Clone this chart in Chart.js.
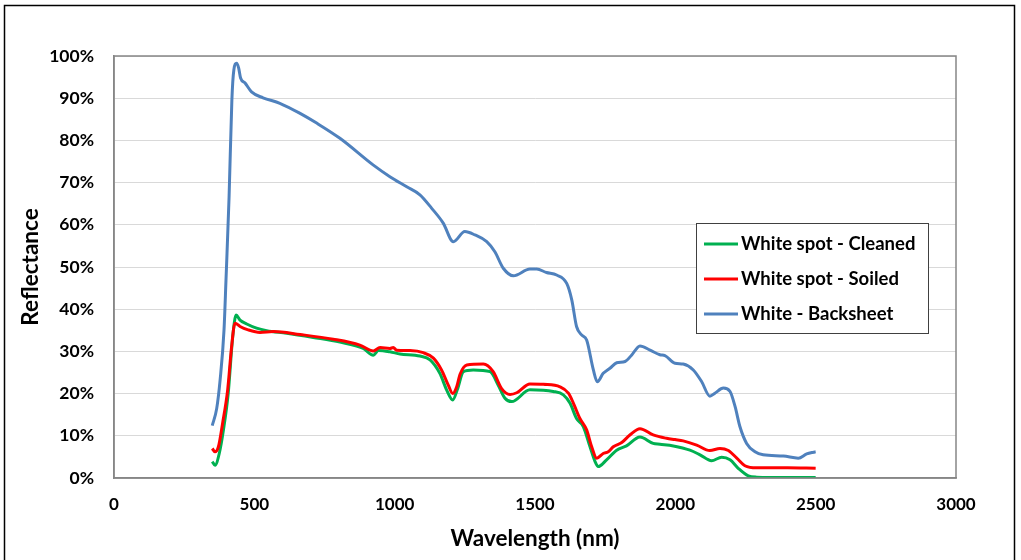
<!DOCTYPE html>
<html lang="en">
<head>
    <meta charset="UTF-8">
    <title>Reflectance spectra</title>
    <script src="https://cdn.jsdelivr.net/npm/chart.js@4/dist/chart.umd.min.js"></script>
    <style>
        html, body {
            margin: 0;
            padding: 0;
            background: #ffffff;
        }
        .chart-box {
            position: relative;
            width: 1021px;
            height: 560px;
        }
    </style>
</head>
<body>
    <div class="chart-box">
        <canvas id="specChart" width="1021" height="560"></canvas>
    </div>

    <script>
        // wavelength (nm) and reflectance (%) for each sample
        const cleanedWl = [350, 360, 375, 390, 407, 423, 435, 449, 473, 508, 544, 615, 710, 805, 888, 924, 942, 983, 1019, 1090, 1126, 1161, 1185, 1207, 1223, 1245, 1280, 1340, 1369, 1393, 1417, 1482, 1565, 1601, 1625, 1648, 1672, 1696, 1714, 1725, 1755, 1791, 1826, 1874, 1921, 1945, 1993, 2052, 2088, 2129, 2165, 2195, 2224, 2260, 2290, 2400, 2500];
        const cleanedPct = [3.9, 3.0, 5.8, 11.4, 20.1, 33.5, 38.6, 37.4, 36.5, 35.5, 34.9, 34.3, 33.3, 32.2, 30.7, 29.1, 30.2, 29.9, 29.4, 28.9, 28.0, 24.8, 20.9, 18.5, 20.9, 25.2, 25.6, 25.2, 22.0, 18.9, 18.1, 20.9, 20.5, 19.7, 17.7, 14.1, 12.2, 7.4, 3.9, 2.7, 4.3, 6.6, 7.6, 9.7, 8.2, 8.0, 7.6, 6.6, 5.5, 4.1, 4.9, 4.3, 2.3, 0.5, 0.2, 0.1, 0.1];

        const soiledWl = [350, 360, 372, 387, 405, 419, 431, 449, 478, 520, 568, 663, 781, 876, 924, 948, 983, 995, 1007, 1055, 1102, 1138, 1167, 1191, 1207, 1221, 1233, 1257, 1316, 1351, 1381, 1411, 1435, 1482, 1530, 1589, 1619, 1637, 1660, 1684, 1702, 1720, 1743, 1761, 1779, 1809, 1838, 1874, 1921, 1969, 1999, 2028, 2076, 2123, 2159, 2189, 2219, 2248, 2290, 2400, 2500];
        const soiledPct = [7.0, 6.2, 7.4, 13.0, 20.9, 31.1, 36.7, 35.9, 35.1, 34.5, 34.7, 34.0, 32.9, 31.5, 30.1, 30.9, 30.7, 30.9, 30.3, 30.2, 29.7, 28.4, 25.6, 22.0, 20.0, 21.6, 24.6, 26.8, 27.0, 25.2, 21.2, 19.8, 20.2, 22.3, 22.2, 21.6, 20.1, 17.7, 14.1, 11.4, 7.4, 4.7, 5.8, 6.2, 7.4, 8.4, 10.2, 11.7, 10.2, 9.4, 9.1, 8.8, 7.8, 6.5, 7.0, 6.5, 4.7, 2.9, 2.4, 2.4, 2.3];

        const backsheetWl = [350, 366, 378, 392, 399, 410, 420, 427, 437, 444, 451, 467, 490, 531, 591, 663, 722, 805, 923, 983, 1043, 1090, 1132, 1173, 1209, 1250, 1286, 1328, 1357, 1387, 1423, 1482, 1506, 1541, 1577, 1613, 1631, 1648, 1666, 1684, 1708, 1722, 1743, 1767, 1791, 1821, 1844, 1874, 1910, 1945, 1963, 1999, 2028, 2064, 2094, 2123, 2141, 2171, 2195, 2213, 2230, 2254, 2284, 2313, 2385, 2438, 2468, 2492, 2500];
        const backsheetPct = [12.4, 16.5, 23.2, 35.1, 46.9, 66.6, 89.6, 96.7, 98.3, 97.2, 94.8, 93.6, 91.5, 90.1, 88.8, 86.4, 84.1, 80.5, 74.2, 71.4, 69.0, 67.1, 63.9, 60.4, 56.0, 58.4, 57.6, 56.0, 53.6, 49.7, 47.9, 49.5, 49.5, 48.7, 48.1, 46.1, 42.2, 35.9, 33.9, 32.7, 25.6, 22.8, 24.8, 26.0, 27.3, 27.6, 29.1, 31.3, 30.3, 29.2, 29.0, 27.2, 27.0, 25.6, 22.8, 19.4, 20.1, 21.3, 20.5, 16.9, 12.2, 8.2, 6.2, 5.5, 5.2, 4.7, 5.7, 6.1, 6.2];

        const seriesNames = ['White spot - Cleaned', 'White spot - Soiled', 'White - Backsheet'];
        const seriesColors = ['#00B050', '#FF0000', '#4F81BD'];

        const xTicks = [0, 500, 1000, 1500, 2000, 2500, 3000];

        const FONT = 'Lato, "Open Sans", Arial, sans-serif';

        function toPoints(xs, ys) {
            return xs.map((x, i) => ({ x: x, y: ys[i] }));
        }

        // plot area box (Excel-like frame) and outer chart border
        const framePlugin = {
            id: 'frame',
            beforeDraw(chart) {
                const c = chart.ctx;
                c.save();
                c.strokeStyle = '#000000';
                c.lineWidth = 1.5;
                c.strokeRect(4.5, 5.5, 1010, 600);
                c.restore();
            },
            afterDatasetsDraw(chart) {
                const a = chart.chartArea;
                const c = chart.ctx;
                c.save();
                c.strokeStyle = '#868686';
                c.lineWidth = 1.5;
                c.strokeRect(a.left, a.top, a.right - a.left, a.bottom - a.top);
                c.restore();
            }
        };

        // boxed legend sitting inside the plot
        const boxLegend = {
            id: 'boxLegend',
            afterDraw(chart) {
                const c = chart.ctx;
                const left = 696, top = 223, w = 232, h = 110;
                c.save();
                c.fillStyle = '#ffffff';
                c.fillRect(left, top, w, h);
                c.strokeStyle = '#404040';
                c.lineWidth = 1;
                c.strokeRect(left + 0.5, top + 0.5, w, h);
                c.font = 'bold 18.5px ' + FONT;
                c.textBaseline = 'middle';
                seriesNames.forEach((name, i) => {
                    const y = top + 21 + i * 35;
                    c.strokeStyle = seriesColors[i];
                    c.lineWidth = 3;
                    c.beginPath();
                    c.moveTo(left + 8, y);
                    c.lineTo(left + 42, y);
                    c.stroke();
                    c.fillStyle = '#000000';
                    c.fillText(name, left + 45, y);
                });
                c.restore();
            }
        };

        const ctx = document.getElementById('specChart').getContext('2d');

        new Chart(ctx, {
            type: 'line',
            data: {
                datasets: [
                    { label: seriesNames[0], data: toPoints(cleanedWl, cleanedPct), borderColor: seriesColors[0], order: 2 },
                    { label: seriesNames[1], data: toPoints(soiledWl, soiledPct), borderColor: seriesColors[1], order: 1 },
                    { label: seriesNames[2], data: toPoints(backsheetWl, backsheetPct), borderColor: seriesColors[2], order: 3 }
                ]
            },
            options: {
                responsive: false,
                animation: false,
                devicePixelRatio: 1,
                layout: {
                    padding: { left: 0, right: 65, top: 56, bottom: 0 }
                },
                elements: {
                    point: { radius: 0 },
                    line: { borderWidth: 3, cubicInterpolationMode: 'monotone', fill: false }
                },
                plugins: {
                    legend: { display: false },
                    tooltip: { enabled: false }
                },
                scales: {
                    x: {
                        type: 'linear',
                        min: 0,
                        max: 3000,
                        afterBuildTicks(scale) {
                            scale.ticks = xTicks.map(v => ({ value: v }));
                        },
                        afterFit(scale) {
                            scale.height = 82;
                        },
                        grid: { display: false, drawTicks: false },
                        border: { display: true, color: '#868686', width: 1.5 },
                        ticks: {
                            padding: 16,
                            color: '#000000',
                            font: { family: FONT, size: 17, weight: 'bold' },
                            callback: v => String(v)
                        },
                        title: {
                            display: true,
                            text: 'Wavelength (nm)',
                            color: '#000000',
                            font: { family: FONT, size: 22.5, weight: 'bold' },
                            padding: { top: 0, bottom: 8 }
                        }
                    },
                    y: {
                        min: 0,
                        max: 100,
                        ticks: {
                            stepSize: 10,
                            padding: 20,
                            color: '#000000',
                            font: { family: FONT, size: 17.5, weight: 'bold' },
                            callback: v => v + '%'
                        },
                        afterFit(scale) {
                            scale.width = 114;
                        },
                        grid: { color: '#d9d9d9', lineWidth: 1, drawTicks: false },
                        border: { display: true, color: '#868686', width: 1.5 },
                        title: {
                            display: true,
                            text: 'Reflectance',
                            color: '#000000',
                            font: { family: FONT, size: 22.5, weight: 'bold' },
                            padding: { top: 17, bottom: 0 }
                        }
                    }
                }
            },
            plugins: [framePlugin, boxLegend]
        });
    </script>
</body>
</html>
